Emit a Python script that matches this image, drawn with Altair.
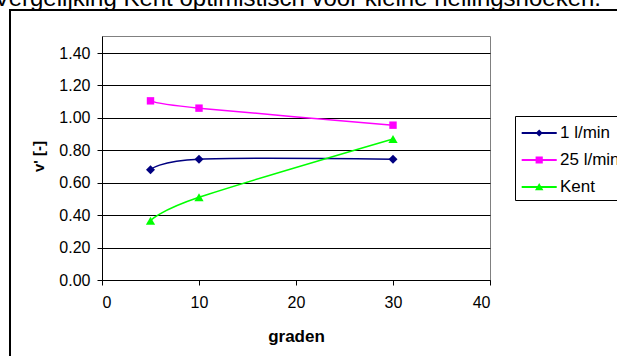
import altair as alt
import pandas as pd

# Measured velocity ratio v' per inclination angle (degrees)
angles = [5, 10, 30]
flow_1 = [0.68, 0.745, 0.745]
flow_25 = [1.105, 1.06, 0.955]
kent = [0.365, 0.51, 0.87]

series_names = ["1 l/min", "25 l/min", "Kent"]
series_values = [flow_1, flow_25, kent]
series_colors = ["#000080", "#FF00FF", "#00FF00"]
series_markers = ["diamond", "square", "triangle-up"]
marker_sizes = [80, 55, 85]

# Legend glyphs: a short line segment with the series marker on top
legend_glyphs = [
    "M-0.86,-0.08H2.06V0.08H-0.86Z M0.6,-0.29L0.89,0L0.6,0.29L0.31,0Z",
    "M-0.86,-0.08H2.06V0.08H-0.86Z M0.3,-0.3H0.9V0.3H0.3Z",
    "M-0.86,-0.08H2.06V0.08H-0.86Z M0.6,-0.33L0.95,0.27H0.25Z",
]

title_text = "Vergelijking Kent optimistisch voor kleine hellingshoeken."
x_ticks = [0, 10, 20, 30, 40]
y_ticks = [0.0, 0.2, 0.4, 0.6, 0.8, 1.0, 1.2, 1.4]

rows = []
for name, vals in zip(series_names, series_values):
    for a, v in zip(angles, vals):
        rows.append({"serie": name, "graden": a, "v": v})
df = pd.DataFrame(rows)

FONT = "Liberation Sans"

x_enc = alt.X(
    "graden:Q",
    scale=alt.Scale(domain=[0, 40], nice=False),
    axis=alt.Axis(
        values=x_ticks, format="d", title="graden", grid=False,
        labelPadding=9, titleX=194, titleY=61, titleBaseline="alphabetic",
        titleFontSize=17,
    ),
)
y_enc = alt.Y(
    "v:Q",
    scale=alt.Scale(domain=[0, 1.505], nice=False),
    axis=alt.Axis(
        values=y_ticks, format=".2f", title="v' [-]", grid=True,
        gridColor="black", gridWidth=1, gridOpacity=1, labelPadding=7,
        titleAngle=270, titleX=-64, titleY=120, titleAlign="center",
        titleBaseline="middle", titleFontSize=15,
    ),
)

layers = []
for name, color, marker, size in zip(series_names, series_colors, series_markers, marker_sizes):
    sub = alt.Chart(df).transform_filter(alt.datum.serie == name)
    layers.append(
        sub.mark_line(interpolate="cardinal", strokeWidth=1.5, color=color)
        .encode(x=x_enc, y=y_enc)
    )
    layers.append(
        sub.mark_point(shape=marker, filled=True, size=size, color=color, opacity=1)
        .encode(x=x_enc, y=y_enc)
    )

legend_cfg = alt.Legend(
    title=None, orient="none", legendX=413, legendY=80,
    strokeColor="black", padding=5, symbolSize=576, symbolStrokeWidth=0,
    labelFont=FONT, labelFontSize=17, labelColor="black", labelOffset=16,
    rowPadding=7,
)
legend_layer = (
    alt.Chart(df)
    .transform_filter("false")
    .mark_point(filled=True, opacity=1)
    .encode(
        x=x_enc, y=y_enc,
        color=alt.Color("serie:N", scale=alt.Scale(domain=series_names, range=series_colors), legend=legend_cfg),
        shape=alt.Shape("serie:N", scale=alt.Scale(domain=series_names, range=legend_glyphs), legend=legend_cfg),
    )
)
layers.append(legend_layer)

one = alt.Data(values=[{}])
title_layer = alt.Chart(one).mark_text(
    text=title_text, align="left", baseline="alphabetic",
    fontSize=24, font=FONT, color="black",
).encode(x=alt.value(-108), y=alt.value(-30))
frame_layer = alt.Chart(one).mark_rect(
    stroke="black", strokeWidth=2, fillOpacity=0,
).encode(x=alt.value(-92), y=alt.value(-26), x2=alt.value(700), y2=alt.value(600))

chart = (
    alt.layer(frame_layer, *layers, title_layer)
    .properties(
        width=388, height=244,
        padding={"left": 102, "top": 36, "right": 127, "bottom": 76},
        autosize=alt.AutoSizeParams(type="none"),
        background="white",
    )
    .configure_view(stroke="#808080", strokeWidth=1)
    .configure_axis(
        domainColor="black", tickColor="black", tickSize=5,
        labelFont=FONT, labelFontSize=16, labelColor="black",
        titleFont=FONT, titleFontWeight="bold", titleColor="black",
    )
)

chart.save("out.html", embed_options={"renderer": "svg", "actions": False})
